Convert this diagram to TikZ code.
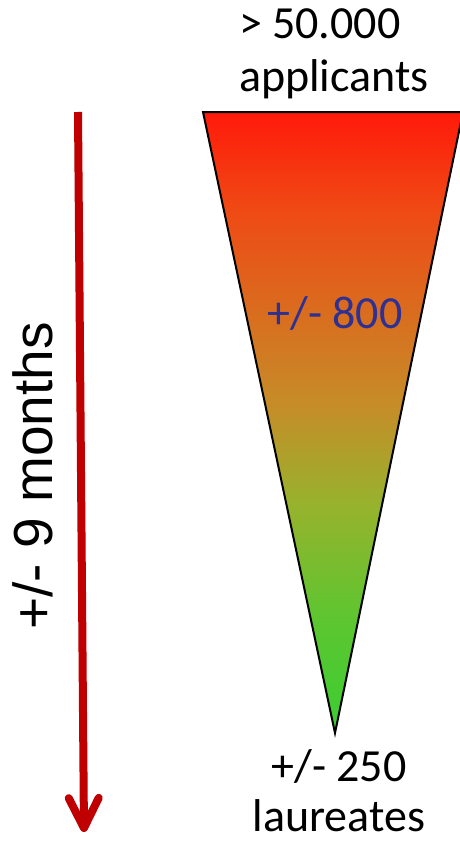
\documentclass[tikz,border=0pt]{standalone}
\usepackage{fontspec}
\setmainfont{Carlito}
\newfontfamily\arialfont{Liberation Sans}
\usetikzlibrary{arrows.meta}
\definecolor{funneltop}{RGB}{255,25,10}
\definecolor{funnelorange}{RGB}{240,72,20}
\definecolor{funnelmid}{RGB}{198,140,40}
\definecolor{funnelolive}{RGB}{152,178,45}
\definecolor{funnellime}{RGB}{92,198,48}
\definecolor{funnelbot}{RGB}{60,205,50}
\definecolor{timered}{RGB}{192,0,0}
\definecolor{numblue}{RGB}{46,49,146}
\pgfdeclareverticalshading{funnelshade}{100bp}{color(0bp)=(funnelbot); color(25bp)=(funnelbot);
  color(34bp)=(funnellime); color(43.5bp)=(funnelolive); color(51.5bp)=(funnelmid);
  color(67.5bp)=(funnelorange); color(75bp)=(funneltop); color(100bp)=(funneltop)}

\begin{document}
\begin{tikzpicture}[x=1pt,y=-1pt,line width=2pt,>={Straight Barb[length=30pt,width=30pt,line width=8pt,round]}]
  \useasboundingbox (0,0) rectangle (460,843);
  % trechter
  \coordinate (tl) at (203,112);
  \coordinate (tr) at (463,112);
  \coordinate (tip) at (335,733);
  \shade[shading=funnelshade] (tl)--(tr)--(tip)--cycle;
  \draw[line join=miter] (tl)--(tr)--(tip)--cycle;
  % teksten
  \node[anchor=base west,align=left,inner sep=0pt,font=\fontsize{46}{52}\selectfont] (start) at (238,91) {> 50.000\\applicants};
  \node[anchor=base,inner sep=0pt,text=numblue,font=\fontsize{46}{52}\selectfont] (mid) at (335,328) {+/- 800};
  \node[anchor=base,align=center,inner sep=0pt,font=\fontsize{46}{50}\selectfont] (end) at (339,831) {+/- 250\\laureates};
  % tijdas
  \coordinate (tstart) at (78,112);
  \coordinate (tend) at (84,832);
  \draw[->,timered,line width=8pt] (tstart)--(tend);
  \node[rotate=90,inner sep=0pt,font=\arialfont\fontsize{55}{66}\selectfont] (dur) at (33,476) {+/- 9 months};
\end{tikzpicture}
\end{document}
